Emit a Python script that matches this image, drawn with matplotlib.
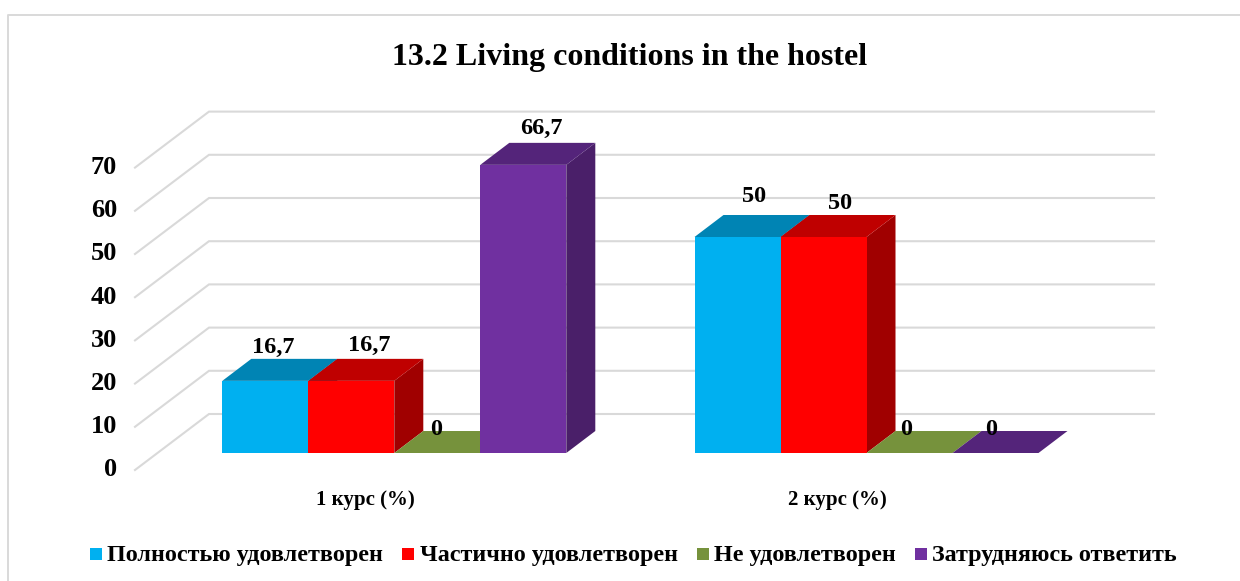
# -*- coding: utf-8 -*-
import numpy as np
import matplotlib
matplotlib.use('Agg')
import matplotlib.pyplot as plt
from matplotlib.lines import Line2D
from matplotlib.patches import Rectangle

###############################################################################
# data:

title = '13.2 Living conditions in the hostel'
categories = ['1 курс (%)', '2 курс (%)']
series_names = ['Полностью удовлетворен', 'Частично удовлетворен',
                'Не удовлетворен', 'Затрудняюсь ответить']
values_1 = [16.7, 16.7, 0, 66.7]
values_2 = [50, 50, 0, 0]
value_labels_1 = ['16,7', '16,7', '0', '66,7']
value_labels_2 = ['50', '50', '0', '0']
y_ticks = [0, 10, 20, 30, 40, 50, 60, 70]

###############################################################################
# settings:

plt.rcParams['font.family'] = ['Liberation Serif', 'DejaVu Serif']
plt.rcParams['font.weight'] = 'bold'

width_px, height_px = 1240, 581
front_colors = ['#00B0F0', '#FF0000', '#76923C', '#7030A0']
top_colors = ['#0084B4', '#BF0000', '#76923C', '#54247A']
side_colors = ['#0075A0', '#A00000', '#5F7530', '#4A1F69']
grid_color = '#D9D9D9'

# pixel scales of the drawing:
zero_x, zero_y = 394.3, 453.0
group_px, unit_px = 472.2, 4.32
bar_width = 86.0/group_px
depth_x, depth_y = 29.0/group_px, 22.0/unit_px

fig = plt.figure(figsize=(width_px/100, height_px/100), dpi=100)
ax = fig.add_axes([0, 0, 1, 1])
ax.set_xlim(-zero_x/group_px, (width_px-zero_x)/group_px)
ax.set_ylim(-(height_px-zero_y)/unit_px, zero_y/unit_px)
ax.axis('off')


def px(x, y):
    # pixel position of the reference to data coordinates
    return (x-zero_x)/group_px, (zero_y-y)/unit_px


###############################################################################
# frame and walls:

fig.add_artist(Line2D([8/width_px, 8/width_px, 1], [0, 1-14.5/height_px, 1-14.5/height_px],
                      color=grid_color, lw=1.4))

wall_x0, _ = px(135, 0)
wall_x1, _ = px(209, 0)
wall_x2, _ = px(1154, 0)
floor_front = -17.0/unit_px
floor_back = 39.0/unit_px
for tick in y_ticks:
    ax.plot([wall_x0, wall_x1, wall_x2], [tick+floor_front, tick+floor_back, tick+floor_back],
            color=grid_color, lw=1.5, zorder=1, solid_joinstyle='miter')
    ax.annotate(str(tick), xy=(wall_x0, tick+floor_front), xytext=(-18, 0),
                textcoords='offset pixels', ha='right', va='center', fontsize=19)

###############################################################################
# bars:

label_offsets = [[(8, 1), (18, 3), (-1, -9), (18, 4)],
                 [(17, 8), (17, 1), (-3, -9), (-4, -9)]]


def draw_group(center, values, labels, offsets):
    for i, (value, label) in enumerate(zip(values, labels)):
        x0 = center+(i-2)*bar_width
        x1 = x0+bar_width
        z = 3+0.01*i
        if value > 0:
            ax.bar(x0, value, width=bar_width, align='edge', color=front_colors[i], zorder=z+0.002)
            ax.fill([x1, x1+depth_x, x1+depth_x, x1], [0, depth_y, value+depth_y, value],
                    color=side_colors[i], lw=0, zorder=z)
        ax.fill([x0, x1, x1+depth_x, x0+depth_x], [value, value, value+depth_y, value+depth_y],
                color=top_colors[i], lw=0, zorder=z)
        ax.annotate(label, xy=(x0+bar_width/2, value+depth_y), xytext=offsets[i],
                    textcoords='offset pixels', ha='center', va='bottom', fontsize=17.5, zorder=6)


for k, (vals, labs) in enumerate([(values_1, value_labels_1), (values_2, value_labels_2)]):
    draw_group(k, vals, labs, label_offsets[k])
    ax.annotate(categories[k], xy=(k, 0), xytext=(-29, -47), textcoords='offset pixels',
                ha='center', va='center', fontsize=15)

###############################################################################
# title and legend:

fig.text(629.5/width_px, 1-57/height_px, title, ha='center', va='center', fontsize=23)

legend_x = [90, 402, 697, 915]
legend_text_x = [107, 420, 714, 932]
legend_y = 1-556/height_px
for i, name in enumerate(series_names):
    fig.add_artist(Rectangle((legend_x[i]/width_px, legend_y-0.5*12/height_px+0.004),
                             12/width_px, 12/height_px, color=front_colors[i], lw=0))
    fig.text(legend_text_x[i]/width_px, legend_y, name, ha='left', va='center', fontsize=17.4)

plt.savefig('out.png', dpi=100)
plt.close('all')
